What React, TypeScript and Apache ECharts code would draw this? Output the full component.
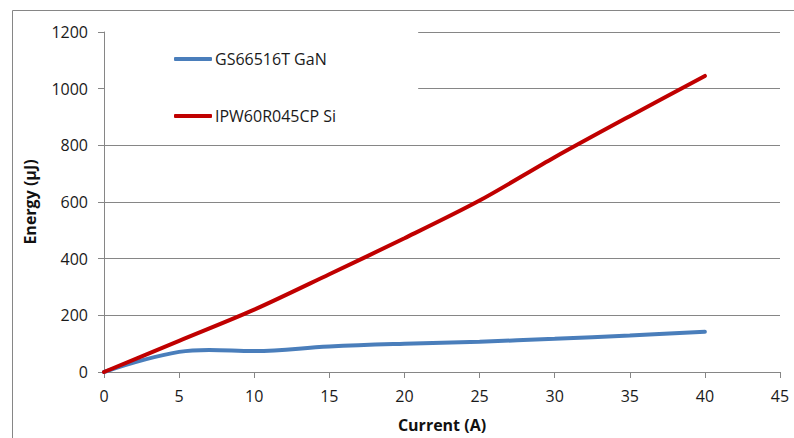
import React, { useEffect, useRef } from "react";
import * as echarts from "echarts";

const currentA: number[] = [0, 5, 7, 10, 15, 20, 25, 30, 35, 40];
const ganEnergy: number[] = [0, 71, 78, 74, 90, 100, 107, 117, 129, 142];
const siCurrent: number[] = [0, 5, 10, 15, 20, 25, 30, 35, 40];
const siEnergy: number[] = [0, 110, 220, 345, 472, 605, 758, 903, 1045];
const xTicks = { min: 0, max: 45, interval: 5 };
const yTicks = { min: 0, max: 1200, interval: 200 };
const seriesNames = ["GS66516T GaN", "IPW60R045CP Si"];

const FONT = "'Open Sans', 'Noto Sans', sans-serif";
const GRID = "#868686";

export default function App() {
  const ref = useRef<HTMLDivElement>(null);
  useEffect(() => {
    if (!ref.current) return;
    const chart = echarts.init(ref.current, null, { renderer: "svg" });
    const gan = currentA.map((x, i) => [x, ganEnergy[i]]);
    const si = siCurrent.map((x, i) => [x, siEnergy[i]]);
    chart.setOption({
      animation: false,
      backgroundColor: "#fff",
      textStyle: { fontFamily: FONT },
      grid: { left: 104, top: 32, width: 676, height: 342 },
      graphic: [
        {
          type: "rect",
          silent: true,
          shape: { x: 12.5, y: 10.5, width: 900, height: 600 },
          style: { fill: "none", stroke: GRID, lineWidth: 1 },
        },
      ],
      legend: {
        orient: "vertical",
        left: 105,
        top: 25,
        padding: [24, 82, 12, 69],
        backgroundColor: "#fff",
        itemGap: 37,
        itemWidth: 38,
        itemHeight: 4,
        icon: "roundRect",
        textStyle: { fontFamily: FONT, fontSize: 16, color: "#1a1a1a", lineHeight: 20, padding: [0, 0, 0, -2] },
        data: seriesNames,
      },
      xAxis: {
        type: "value",
        min: xTicks.min,
        max: xTicks.max,
        interval: xTicks.interval,
        name: "Current (A)",
        nameLocation: "middle",
        nameGap: 45,
        nameTextStyle: { fontFamily: FONT, fontSize: 16, fontWeight: "bold", color: "#111" },
        axisLine: { show: true, lineStyle: { color: GRID, width: 1 } },
        axisTick: { show: true, length: 6, lineStyle: { color: GRID } },
        axisLabel: { fontFamily: FONT, fontSize: 16, color: "#1a1a1a", margin: 16, formatter: (v: number) => String(v) },
        splitLine: { show: false },
      },
      yAxis: {
        type: "value",
        min: yTicks.min,
        max: yTicks.max,
        interval: yTicks.interval,
        name: "Energy (µJ)",
        nameLocation: "middle",
        nameGap: 66,
        nameTextStyle: { fontFamily: FONT, fontSize: 16, fontWeight: "bold", color: "#111" },
        axisLine: { show: true, lineStyle: { color: GRID, width: 1 } },
        axisTick: { show: true, length: 6, lineStyle: { color: GRID } },
        axisLabel: { fontFamily: FONT, fontSize: 16, color: "#1a1a1a", margin: 16, formatter: (v: number) => String(v) },
        splitLine: { show: true, lineStyle: { color: GRID, width: 1 } },
      },
      series: [
        {
          name: seriesNames[0],
          type: "line",
          data: gan,
          smooth: 0.4,
          showSymbol: false,
          symbol: "none",
          color: "#4A7EBB",
          lineStyle: { width: 4, color: "#4A7EBB", cap: "round" },
        },
        {
          name: seriesNames[1],
          type: "line",
          data: si,
          smooth: 0.3,
          showSymbol: false,
          symbol: "none",
          color: "#C00000",
          lineStyle: { width: 4, color: "#C00000", cap: "round" },
        },
      ],
    });
    return () => chart.dispose();
  }, []);
  return (
    <div
      ref={ref}
      style={{ position: "fixed", left: 0, top: 0, width: 794, height: 438 }}
    />
  );
}
